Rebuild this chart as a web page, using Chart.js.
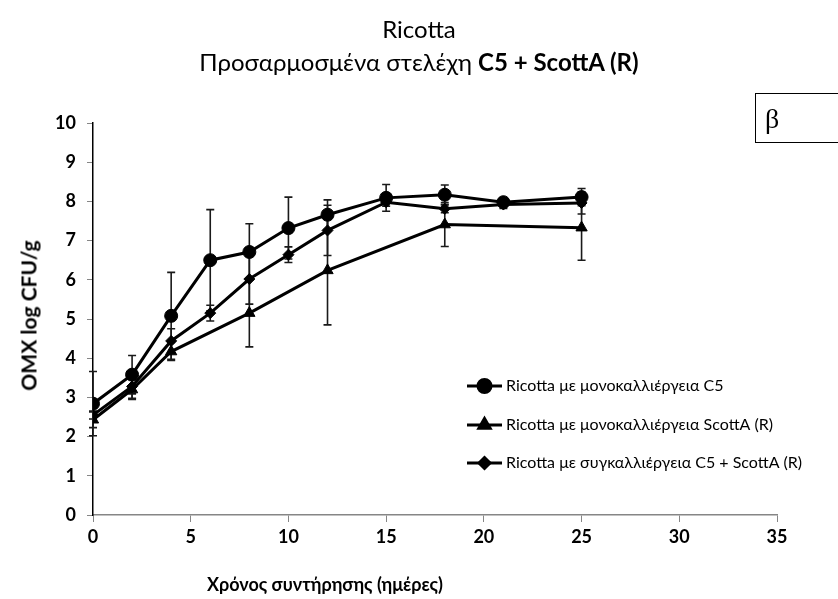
<!DOCTYPE html>
<html>
<head>
<meta charset="utf-8">
<script src="https://cdn.jsdelivr.net/npm/chart.js@4/dist/chart.umd.min.js"></script>
<style>
    html, body { margin: 0; padding: 0; background: #fff; overflow: hidden; }
    #wrap { position: relative; width: 838px; height: 599px; }
    #grafico { position: absolute; left: 0; top: 0; }
    .titulo { position: absolute; left: 0; width: 838px; text-align: center;
              font-family: "Lato", "Open Sans", sans-serif; font-size: 24px; color: #000; }
    .eixo-x { position: absolute; left: 150px; width: 350px; top: 573px; text-align: center;
              font-family: "Lato", "Open Sans", sans-serif; font-weight: bold; font-size: 18px; }
    .eixo-y { position: absolute; left: -72px; top: 303px; width: 200px; text-align: center;
              transform: rotate(-90deg); font-family: "Lato", "Open Sans", sans-serif;
              font-weight: bold; font-size: 21px; }
    .beta { position: absolute; left: 755px; top: 93px; width: 100px; height: 50px;
            border: 1px solid #000; font-family: "Liberation Serif", serif; font-size: 28px;
            line-height: 50px; padding-left: 9px; box-sizing: border-box; }
</style>
</head>
<body>
<div id="wrap">
    <canvas id="grafico" width="838" height="599"></canvas>
    <div class="titulo" style="top:14px">Ricotta</div>
    <div class="titulo" style="top:47px">Προσαρμοσμένα στελέχη <b>C5 + ScottA (R)</b></div>
    <div class="beta">β</div>
    <div class="eixo-y">ΟΜΧ log CFU/g</div>
    <div class="eixo-x">Χρόνος συντήρησης (ημέρες)</div>
</div>
<script>
// ================= DADOS =================
const diasC5 = [0, 2, 4, 6, 8, 10, 12, 15, 18, 21, 25];
const mediaC5 = [2.84, 3.58, 5.08, 6.50, 6.71, 7.32, 7.66, 8.09, 8.17, 7.98, 8.11];
const erroC5 = [0.82, 0.49, 1.11, 1.29, 0.72, 0.79, 0.38, 0.34, 0.25, 0.10, 0.22];

const diasScott = [0, 2, 4, 8, 12, 18, 25];
const mediaScott = [2.43, 3.20, 4.17, 5.15, 6.24, 7.41, 7.33];
const erroScott = [0.20, 0.25, 0.23, 0.86, 1.39, 0.56, 0.83];

const diasCo = [0, 2, 4, 6, 8, 10, 12, 15, 18, 21, 25];
const mediaCo = [2.55, 3.28, 4.44, 5.15, 6.02, 6.64, 7.26, 7.98, 7.81, 7.92, 7.96];
const erroCo = [0.10, 0.30, 0.31, 0.20, 0.64, 0.20, 0.64, 0.10, 0.10, 0.10, 0.28];

const legendas = [
    "Ricotta με μονοκαλλιέργεια C5",
    "Ricotta με μονοκαλλιέργεια ScottA (R)",
    "Ricotta με συγκαλλιέργεια C5 + ScottA (R)"
];
const ticksX = [0, 5, 10, 15, 20, 25, 30, 35];
const ticksY = [0, 1, 2, 3, 4, 5, 6, 7, 8, 9, 10];

const fonte = "Lato, 'Open Sans', sans-serif";

function pontos(dias, valores, erros) {
    return dias.map((d, i) => ({ x: d, y: valores[i], e: erros[i] }));
}

function serie(label, dias, valores, erros, estilo, raio) {
    return {
        label: label,
        data: pontos(dias, valores, erros),
        borderColor: "#000",
        backgroundColor: "#000",
        borderWidth: 3,
        pointStyle: estilo,
        pointRadius: raio,
        pointBorderWidth: 1,
        tension: 0
    };
}

// ================= BARRAS DE ERRO =================
const barrasErro = {
    id: "barrasErro",
    beforeDatasetsDraw(chart) {
        const ctx = chart.ctx;
        const sx = chart.scales.x, sy = chart.scales.y;
        ctx.save();
        ctx.strokeStyle = "#1a1a1a";
        ctx.lineWidth = 1.6;
        chart.data.datasets.forEach(ds => {
            ds.data.forEach(p => {
                const px = sx.getPixelForValue(p.x);
                const yTop = sy.getPixelForValue(p.y + p.e);
                const yBot = sy.getPixelForValue(p.y - p.e);
                ctx.beginPath();
                ctx.moveTo(px, yTop); ctx.lineTo(px, yBot);
                ctx.moveTo(px - 4, yTop); ctx.lineTo(px + 4, yTop);
                ctx.moveTo(px - 4, yBot); ctx.lineTo(px + 4, yBot);
                ctx.stroke();
            });
        });
        ctx.restore();
    }
};

// ================= LEGENDA =================
const legendaManual = {
    id: "legendaManual",
    afterDraw(chart) {
        const ctx = chart.ctx;
        const x0 = 467, x1 = 502, linhas = [386, 425, 463];
        ctx.save();
        chart.data.datasets.forEach((ds, i) => {
            const y = linhas[i];
            ctx.strokeStyle = "#000";
            ctx.lineWidth = 3;
            ctx.beginPath();
            ctx.moveTo(x0, y); ctx.lineTo(x1, y);
            ctx.stroke();
            Chart.helpers.drawPoint(ctx, {
                pointStyle: ds.pointStyle,
                radius: ds.pointRadius,
                borderWidth: 1
            }, (x0 + x1) / 2, y);
            ctx.fillStyle = "#000";
            ctx.font = "16px " + fonte;
            ctx.textBaseline = "middle";
            ctx.fillText(ds.label, 506, y);
        });
        ctx.restore();
    }
};

// ================= GRAFICO =================
const ctx = document.getElementById("grafico").getContext("2d");
new Chart(ctx, {
    type: "line",
    data: {
        datasets: [
            serie(legendas[0], diasC5, mediaC5, erroC5, "circle", 6.5),
            serie(legendas[1], diasScott, mediaScott, erroScott, "triangle", 6.5),
            serie(legendas[2], diasCo, mediaCo, erroCo, "rectRot", 5.5)
        ]
    },
    options: {
        responsive: false,
        animation: false,
        layout: { padding: { left: 0, right: 61, top: 123, bottom: 0 } },
        plugins: {
            legend: { display: false },
            title: { display: false },
            tooltip: { enabled: false }
        },
        scales: {
            x: {
                type: "linear",
                min: 0, max: 35,
                afterBuildTicks: s => { s.ticks = ticksX.map(v => ({ value: v })); },
                afterFit: s => { s.height = 84; },
                grid: { drawOnChartArea: false, drawTicks: true, tickLength: 7, tickColor: "#868686" },
                border: { color: "#868686", width: 1.5 },
                ticks: { color: "#000", padding: 4, font: { family: fonte, size: 18, weight: "bold" } }
            },
            y: {
                min: 0, max: 10,
                afterBuildTicks: s => { s.ticks = ticksY.map(v => ({ value: v })); },
                afterFit: s => { s.width = 93; },
                grid: { drawOnChartArea: false, drawTicks: true, tickLength: 6, tickColor: "#868686" },
                border: { color: "#000", width: 1.5 },
                ticks: { color: "#000", padding: 11, font: { family: fonte, size: 18, weight: "bold" } }
            }
        }
    },
    plugins: [barrasErro, legendaManual]
});
</script>
</body>
</html>
